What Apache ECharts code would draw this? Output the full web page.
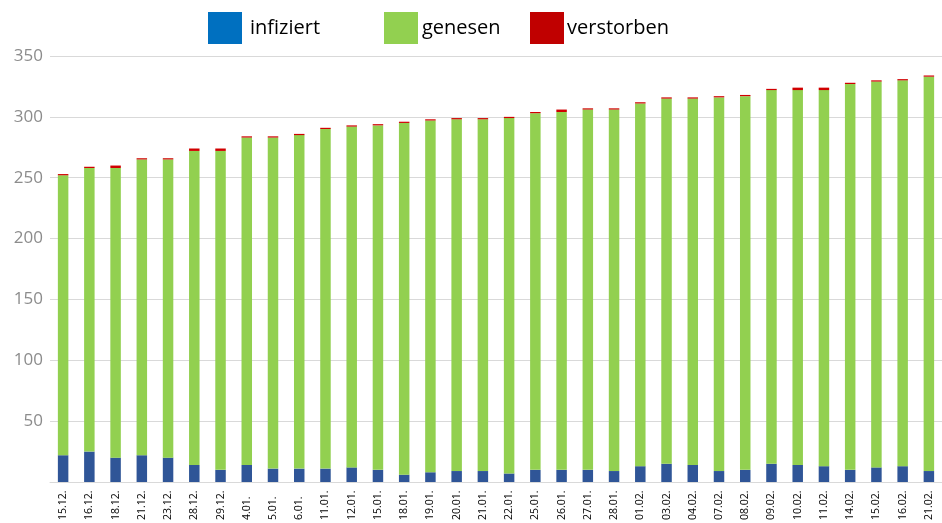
<!DOCTYPE html>
<html><head><meta charset="utf-8">
<script src="https://cdn.jsdelivr.net/npm/echarts@6/dist/echarts.min.js"></script>
<style>html,body{margin:0;padding:0;background:#fff}#c{width:942px;height:523px}</style>
</head><body><div id="c"></div>
<script>
const categories = ['15.12.','16.12.','18.12.','21.12.','23.12.','28.12.','29.12.','4.01.','5.01.','6.01.','11.01.','12.01.','15.01.','18.01.','19.01.','20.01.','21.01.','22.01.','25.01.','26.01.','27.01.','28.01.','01.02.','03.02.','04.02.','07.02.','08.02.','09.02.','10.02.','11.02.','14.02.','15.02.','16.02.','21.02.'];
const infiziert = [22,25,20,22,20,14,10,14,11,11,11,12,10,6,8,9,9,7,10,10,10,9,13,15,14,9,10,15,14,13,10,12,13,9];
const genesen = [230,233,238,243,245,258,262,269,272,274,279,280,283,289,289,289,289,292,293,294,296,297,298,300,301,307,307,307,308,309,317,317,317,324];
const verstorben = [1,1,2,1,1,2,2,1,1,1,1,1,1,1,1,1,1,1,1,2,1,1,1,1,1,1,1,1,2,2,1,1,1,1];
const yTicks = {min:0, max:350, interval:50};

const FONT = "'Liberation Sans Narrow','Open Sans',sans-serif";
const chart = echarts.init(document.getElementById('c'), null, {renderer:'canvas'});
function leg(name, left, color, gap){
  return {show:true, data:[{name:name, itemStyle:{color:color}}], left:left, top:7, itemWidth:34, itemHeight:32, itemGap:0,
    icon:'rect', textStyle:{fontFamily:FONT, fontSize:20, color:'#000', padding:[6,0,0,gap]}, selectedMode:false};
}
chart.setOption({
  animation:false,
  legend:[leg('infiziert',203,'#0070C0',3), leg('genesen',379,'#92D050',-1), leg('verstorben',525,'#C00000',-2)],
  grid:{left:50, right:0, top:56, bottom:40, containLabel:false},
  xAxis:{type:'category', data:categories,
    axisLine:{show:true, lineStyle:{color:'#d9d9d9'}}, axisTick:{show:false},
    axisLabel:{rotate:90, interval:0, align:'left', margin:38, fontFamily:FONT, fontSize:10.5, color:'#000'}},
  yAxis:{type:'value', min:yTicks.min, max:yTicks.max, interval:yTicks.interval,
    axisLine:{show:false}, axisTick:{show:false},
    splitLine:{lineStyle:{color:'#d9d9d9', width:1}},
    axisLabel:{showMinLabel:false, margin:7, fontFamily:FONT, fontSize:17, color:'#8c8c8c'}},
  series:[
    {name:'infiziert', type:'bar', stack:'a', data:infiziert, barWidth:'40%', itemStyle:{color:'#2F5597'}},
    {name:'genesen', type:'bar', stack:'a', data:genesen, itemStyle:{color:'#92D050'}},
    {name:'verstorben', type:'bar', stack:'a', data:verstorben, itemStyle:{color:'#D00000'}}
  ]
});
</script></body></html>
